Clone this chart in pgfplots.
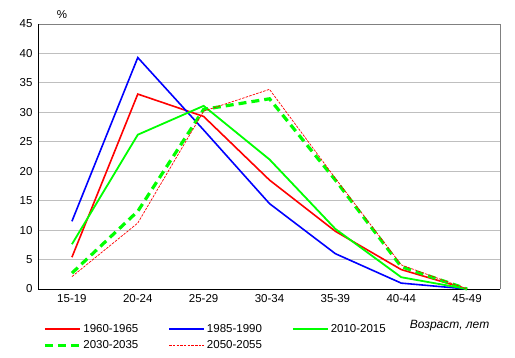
\documentclass[border=0pt]{standalone}
\usepackage{pgfplots}
\pgfplotsset{compat=1.18}
\usepackage{fontspec}
\setmainfont{Liberation Sans}
\begin{document}
\begin{tikzpicture}[x=1pt,y=1pt]
\path[use as bounding box] (-39,-68) rectangle (476,289);
\begin{axis}[
  at={(0,0)}, anchor=south west,
  scale only axis, width=461pt, height=265pt,
  xmin=-0.5, xmax=6.5, ymin=0, ymax=45,
  xtick={0,1,2,3,4,5,6},
  xticklabels={15-19,20-24,25-29,30-34,35-39,40-44,45-49},
  ytick={0,5,...,45},
  major tick length=0pt,
  ymajorgrids, grid style={draw=black!25, line width=0.8pt},
  axis line style={draw=none},
  tick label style={font=\fontsize{11.5}{13}\selectfont},
  /pgf/number format/assume math mode=true,
  xticklabel style={yshift=-2pt},
  yticklabel style={xshift=-3pt},
  clip=false,
  legend columns=3,
  legend cell align=left,
  legend style={draw=none, fill=none, font=\fontsize{11.5}{13}\selectfont,
    at={(0,0)}, anchor=north west, xshift=1pt, yshift=-31pt,
    /tikz/every even column/.append style={column sep=28pt},
    row sep=3pt},
  legend image code/.code={\draw[#1] (0pt,0pt) -- (35pt,0pt);},
]
\draw[black!50, line width=0.8pt] (rel axis cs:0,1) -- (rel axis cs:1,1) -- (rel axis cs:1,0);
\draw[black, line width=1pt] (rel axis cs:0,1) -- (rel axis cs:0,0) -- (rel axis cs:1,0);
\addplot[red, line width=1.6pt] coordinates {(0,5.4) (1,33.1) (2,29.3) (3,18.5) (4,9.8) (5,3.3) (6,0)};
\addlegendentry{1960-1965}
\addplot[blue, line width=1.6pt] coordinates {(0,11.5) (1,39.3) (2,27.0) (3,14.5) (4,6.0) (5,1.0) (6,0)};
\addlegendentry{1985-1990}
\addplot[green, line width=1.8pt] coordinates {(0,7.6) (1,26.2) (2,31.1) (3,22.0) (4,10.2) (5,2.0) (6,0)};
\addlegendentry{2010-2015}
\addplot[green, line width=3.2pt, dash pattern=on 8pt off 5pt] coordinates {(0,2.7) (1,13.2) (2,30.5) (3,32.3) (4,18.5) (5,3.8) (6,0)};
\addlegendentry{2030-2035}
\addplot[red, line width=0.7pt, dash pattern=on 2.5pt off 1.2pt] coordinates {(0,2.1) (1,11.2) (2,30.2) (3,33.9) (4,18.8) (5,4.1) (6,0)};
\addlegendentry{2050-2055}
\node[font=\fontsize{11.5}{13}\selectfont, anchor=base] at (rel axis cs:0.0499,1) [yshift=6pt] {\%};
\node[font=\fontsize{12}{14}\itshape, anchor=base west] at (rel axis cs:0.797,0) [yshift=-39pt] {Возраст, лет};
\end{axis}
\end{tikzpicture}
\end{document}
